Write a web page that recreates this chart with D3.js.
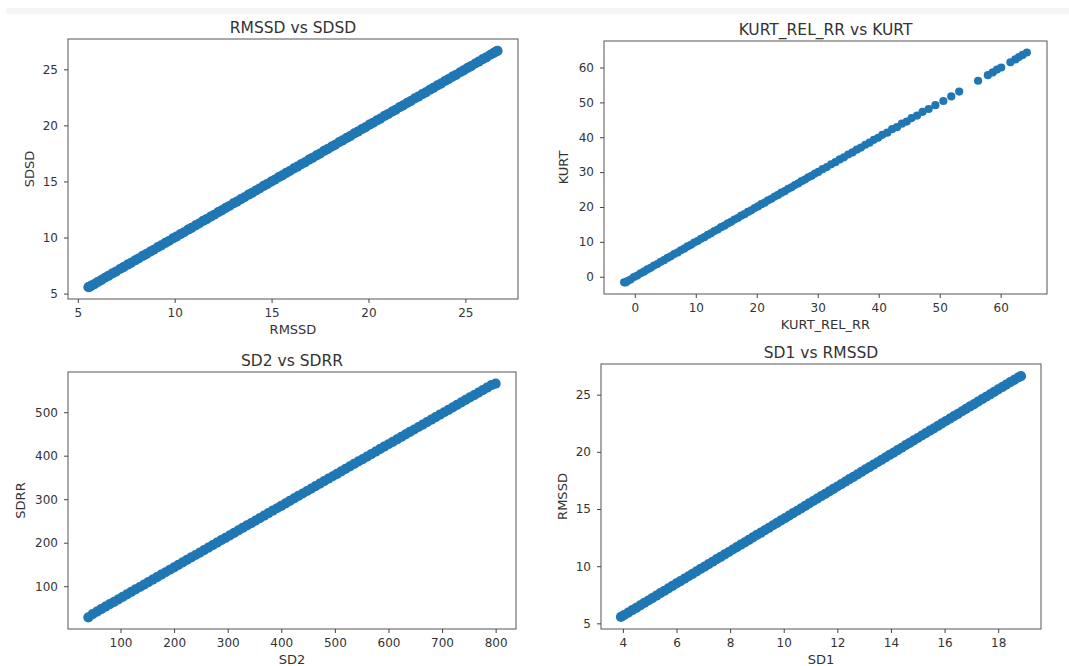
<!DOCTYPE html>
<html>
<head>
<meta charset="utf-8">
<script src="https://cdn.jsdelivr.net/npm/d3@7"></script>
<style>
  body { margin: 0; background: #fff; }
  text { font-family: "DejaVu Sans", sans-serif; fill: #333; }
</style>
</head>
<body>
<script>
// RMSSD vs SDSD
const rmssd = [5.55,5.63,5.71,5.86,6.02,6.21,6.40,6.58,6.79,6.97,7.18,7.36,7.57,7.75,7.96,8.14,8.35,8.53,8.74,8.92,
  9.13,9.31,9.52,9.70,9.91,10.09,10.30,10.48,10.69,10.87,11.08,11.26,11.47,11.65,11.86,12.04,12.25,12.43,12.64,12.82,
  13.03,13.21,13.42,13.60,13.81,13.99,14.20,14.38,14.59,14.77,14.98,15.16,15.37,15.55,15.76,15.94,16.15,16.33,16.54,16.72,
  16.93,17.11,17.32,17.50,17.71,17.89,18.10,18.28,18.49,18.67,18.88,19.06,19.27,19.45,19.66,19.84,20.05,20.23,20.44,20.62,
  20.83,21.01,21.22,21.40,21.61,21.79,22.00,22.18,22.39,22.57,22.78,22.96,23.17,23.35,23.56,23.74,23.95,24.13,24.34,24.52,
  24.73,24.91,25.12,25.30,25.51,25.69,25.90,26.08,26.29,26.47,26.58,26.66];
const sdsd = [5.57,5.62,5.72,5.85,6.03,6.20,6.41,6.57,6.80,6.96,7.19,7.35,7.58,7.74,7.97,8.13,8.36,8.52,8.75,8.91,
  9.14,9.30,9.53,9.69,9.92,10.08,10.31,10.47,10.70,10.86,11.09,11.25,11.48,11.64,11.87,12.03,12.26,12.42,12.65,12.81,
  13.04,13.20,13.43,13.59,13.82,13.98,14.21,14.37,14.60,14.76,14.99,15.15,15.38,15.54,15.77,15.93,16.16,16.32,16.55,16.71,
  16.94,17.10,17.33,17.49,17.72,17.88,18.11,18.27,18.50,18.66,18.89,19.05,19.28,19.44,19.67,19.83,20.06,20.22,20.45,20.61,
  20.84,21.00,21.23,21.39,21.62,21.78,22.01,22.17,22.40,22.56,22.79,22.95,23.18,23.34,23.57,23.73,23.96,24.12,24.35,24.51,
  24.74,24.90,25.13,25.29,25.52,25.68,25.91,26.07,26.30,26.46,26.59,26.65];

// KURT_REL_RR vs KURT
const kurtRelRR = [-1.75,-1.5,-1.2,-0.7,-0.15,0.4,0.95,1.5,2.05,2.6,3.15,3.7,4.25,4.8,5.35,5.9,6.45,7.0,7.55,8.1,
  8.65,9.2,9.75,10.3,10.85,11.4,11.95,12.5,13.05,13.6,14.15,14.7,15.25,15.8,16.35,16.9,17.45,18.0,18.55,19.1,
  19.65,20.2,20.75,21.3,21.85,22.4,22.95,23.5,24.05,24.6,25.15,25.7,26.25,26.8,27.35,27.9,28.45,29.0,29.55,30.1,
  30.8,31.5,32.2,32.9,33.6,34.3,35.0,35.7,36.4,37.1,37.8,38.5,39.2,39.9,40.6,41.4,42.2,43.0,43.8,44.6,
  45.4,46.3,47.2,48.2,49.3,50.6,51.9,53.2,56.3,57.9,58.7,59.4,60.1,61.6,62.4,63.0,63.6,64.3];
const kurt = [-1.6,-1.65,-1.25,-0.8,-0.1,0.35,1.0,1.45,2.1,2.55,3.2,3.65,4.3,4.75,5.4,5.85,6.5,6.95,7.6,8.05,
  8.7,9.15,9.8,10.25,10.9,11.35,12.0,12.45,13.1,13.55,14.2,14.65,15.3,15.75,16.4,16.85,17.5,17.95,18.6,19.05,
  19.7,20.15,20.8,21.25,21.9,22.35,23.0,23.45,24.1,24.55,25.2,25.65,26.3,26.75,27.4,27.85,28.5,28.95,29.6,30.05,
  30.85,31.45,32.25,32.85,33.65,34.25,35.05,35.65,36.45,37.05,37.85,38.45,39.25,39.85,40.7,41.3,42.3,42.9,43.9,44.5,
  45.5,46.2,47.3,48.1,49.2,50.4,51.7,53.1,56.2,57.8,58.6,59.4,60.0,61.5,62.3,63.0,63.6,64.3];

// SD2 vs SDRR
const sd2 = [40,48,56,64,72,80,88,96,104,112,120,128,136,144,152,160,168,176,184,192,
  200,208,216,224,232,240,248,256,264,272,280,288,296,304,312,320,328,336,344,352,
  360,368,376,384,392,400,408,416,424,432,440,448,456,464,472,480,488,496,504,512,
  520,528,536,544,552,560,568,576,584,592,600,608,616,624,632,640,648,656,664,672,
  680,688,696,704,712,720,728,736,744,752,760,768,776,784,792,800];
const sdrr = [28.5,35.9,41.6,47.3,52.9,58.6,64.2,69.9,75.5,81.2,86.9,92.5,98.2,103.8,109.5,115.1,120.8,126.5,132.1,137.8,
  143.4,149.1,154.7,160.4,166.1,171.7,177.4,183.0,188.7,194.3,200.0,205.7,211.3,217.0,222.6,228.3,233.9,239.6,245.2,250.9,
  256.6,262.2,267.9,273.5,279.2,284.8,290.5,296.2,301.8,307.5,313.1,318.8,324.4,330.1,335.8,341.4,347.1,352.7,358.4,364.0,
  369.7,375.4,381.0,386.7,392.3,398.0,403.6,409.3,415.0,420.6,426.3,431.9,437.6,443.2,448.9,454.6,460.2,465.9,471.5,477.2,
  482.8,488.5,494.2,499.8,505.5,511.1,516.8,522.4,528.1,533.8,539.4,545.1,550.7,556.4,562.0,565.5];

// SD1 vs RMSSD
const sd1 = [3.93,4.05,4.20,4.35,4.50,4.65,4.80,4.95,5.10,5.25,5.40,5.55,5.70,5.85,6.00,6.15,6.30,6.45,6.60,6.75,
  6.90,7.05,7.20,7.35,7.50,7.65,7.80,7.95,8.10,8.25,8.40,8.55,8.70,8.85,9.00,9.15,9.30,9.45,9.60,9.75,
  9.90,10.05,10.20,10.35,10.50,10.65,10.80,10.95,11.10,11.25,11.40,11.55,11.70,11.85,12.00,12.15,12.30,12.45,12.60,12.75,
  12.90,13.05,13.20,13.35,13.50,13.65,13.80,13.95,14.10,14.25,14.40,14.55,14.70,14.85,15.00,15.15,15.30,15.45,15.60,15.75,
  15.90,16.05,16.20,16.35,16.50,16.65,16.80,16.95,17.10,17.25,17.40,17.55,17.70,17.85,18.00,18.15,18.30,18.45,18.60,18.75,18.85];
const rmssd2 = [5.56,5.73,5.94,6.15,6.36,6.58,6.79,7.00,7.21,7.42,7.64,7.85,8.06,8.27,8.49,8.70,8.91,9.12,9.33,9.55,
  9.76,9.97,10.18,10.39,10.61,10.82,11.03,11.24,11.46,11.67,11.88,12.09,12.30,12.52,12.73,12.94,13.15,13.36,13.58,13.79,
  14.00,14.21,14.43,14.64,14.85,15.06,15.27,15.49,15.70,15.91,16.12,16.33,16.55,16.76,16.97,17.18,17.39,17.61,17.82,18.03,
  18.24,18.46,18.67,18.88,19.09,19.30,19.52,19.73,19.94,20.15,20.36,20.58,20.79,21.00,21.21,21.43,21.64,21.85,22.06,22.27,
  22.49,22.70,22.91,23.12,23.33,23.55,23.76,23.97,24.18,24.40,24.61,24.82,25.03,25.24,25.46,25.67,25.88,26.09,26.30,26.52,26.63];

// tick values
const ticks5to25 = [5, 10, 15, 20, 25];
const ticksKurt = [0, 10, 20, 30, 40, 50, 60];
const ticksSd2 = [100, 200, 300, 400, 500, 600, 700, 800];
const ticksSdrr = [100, 200, 300, 400, 500];
const ticksSd1 = [4, 6, 8, 10, 12, 14, 16, 18];

const panels = [
  { title: "RMSSD vs SDSD", xLabel: "RMSSD", yLabel: "SDSD", xs: rmssd, ys: sdsd,
    xTicks: ticks5to25, yTicks: ticks5to25, box: [68, 518, 39, 299], yLabX: 29, r: 5.1 },
  { title: "KURT_REL_RR vs KURT", xLabel: "KURT_REL_RR", yLabel: "KURT", xs: kurtRelRR, ys: kurt,
    xTicks: ticksKurt, yTicks: ticksKurt, box: [604, 1047, 41, 294], yLabX: 563, r: 4.1 },
  { title: "SD2 vs SDRR", xLabel: "SD2", yLabel: "SDRR", xs: sd2, ys: sdrr,
    xTicks: ticksSd2, yTicks: ticksSdrr, box: [68, 516, 372, 629], yLabX: 20, r: 5.1 },
  { title: "SD1 vs RMSSD", xLabel: "SD1", yLabel: "RMSSD", xs: sd1, ys: rmssd2,
    xTicks: ticksSd1, yTicks: ticks5to25, box: [601, 1041, 364, 629], yLabX: 562, r: 5.1 }
];

const W = 1069, H = 666;
const svg = d3.select("body").append("svg").attr("width", W).attr("height", H);
svg.append("rect").attr("width", W).attr("height", H).attr("fill", "#fff");
svg.append("rect").attr("x", 6).attr("y", 8).attr("width", W - 6).attr("height", 6).attr("fill", "#f5f5f5");

// matplotlib style 5% margins
const padded = ext => { const m = (ext[1] - ext[0]) * 0.05; return [ext[0] - m, ext[1] + m]; };

panels.forEach(p => {
  const [l, r, t, b] = p.box;
  const x = d3.scaleLinear().domain(padded(d3.extent(p.xs))).range([l, r]);
  const y = d3.scaleLinear().domain(padded(d3.extent(p.ys))).range([b, t]);
  const g = svg.append("g");

  g.append("g").selectAll("circle")
    .data(d3.zip(p.xs, p.ys))
    .join("circle")
      .attr("cx", d => x(d[0]))
      .attr("cy", d => y(d[1]))
      .attr("r", p.r)
      .attr("fill", "#1f77b4");

  g.append("rect")
    .attr("x", l).attr("y", t).attr("width", r - l).attr("height", b - t)
    .attr("fill", "none").attr("stroke", "#555").attr("stroke-width", 1);

  const xa = g.append("g").attr("transform", `translate(0,${b})`)
    .call(d3.axisBottom(x).tickValues(p.xTicks).tickSize(4).tickPadding(5));
  const ya = g.append("g").attr("transform", `translate(${l},0)`)
    .call(d3.axisLeft(y).tickValues(p.yTicks).tickSize(4).tickPadding(6));
  [xa, ya].forEach(a => {
    a.select(".domain").remove();
    a.selectAll(".tick line").attr("stroke", "#444");
    a.selectAll(".tick text").attr("font-size", 12).attr("fill", "#333")
      .style("font-family", '"DejaVu Sans", sans-serif');
  });

  g.append("text")
    .attr("x", (l + r) / 2).attr("y", t - 6)
    .attr("text-anchor", "middle").attr("font-size", 15.5)
    .text(p.title);

  g.append("text")
    .attr("x", (l + r) / 2).attr("y", b + 34.5)
    .attr("text-anchor", "middle").attr("font-size", 13)
    .text(p.xLabel);

  g.append("text")
    .attr("transform", `translate(${p.yLabX},${(t + b) / 2}) rotate(-90)`)
    .attr("text-anchor", "middle").attr("dy", "0.35em").attr("font-size", 13)
    .text(p.yLabel);
});
</script>
</body>
</html>
